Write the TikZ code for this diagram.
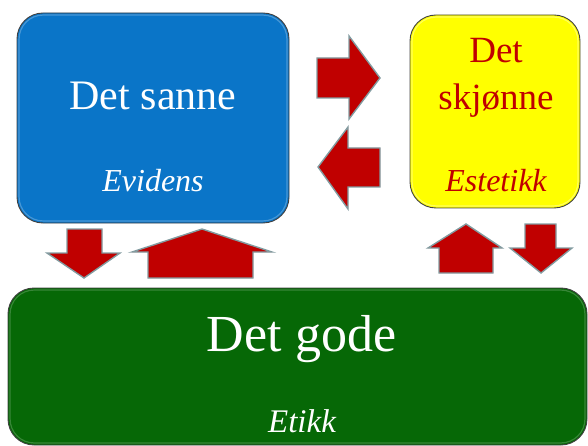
\documentclass[tikz,border=0pt]{standalone}
\usepackage{fontspec}
\setmainfont{Liberation Serif}
\definecolor{boxblue}{RGB}{10,117,200}
\definecolor{boxyellow}{RGB}{255,255,0}
\definecolor{boxgreen}{RGB}{6,104,6}
\definecolor{arrred}{RGB}{192,0,0}
\definecolor{arredge}{RGB}{130,155,160}
\definecolor{txtred}{RGB}{192,0,0}
\tikzset{
  panel/.style={rectangle, rounded corners=26pt, draw=black!75, line width=0.9pt, inner sep=0pt},
  blockarrow/.style={fill=arrred, draw=arredge, line width=1.4pt, line join=miter},
  bigtext/.style={anchor=base, inner sep=0pt},
}
\begin{document}
\begin{tikzpicture}[x=1pt,y=-1pt]
\useasboundingbox (0,0) rectangle (588,446);
% panels
\node[panel, fill=boxblue, minimum width=272pt, minimum height=210pt] (sanne) at (153,118) {};
\node[panel, fill=boxyellow, minimum width=170pt, minimum height=193pt] (skjonne) at (495,111.5) {};
\node[panel, fill=boxgreen, minimum width=579pt, minimum height=157pt] (gode) at (297.5,366.5) {};
% highlights
\draw[white, opacity=0.25, line width=1.2pt, rounded corners=24pt] ([shift={(2.5pt,-2.5pt)}]sanne.north west) rectangle ([shift={(-2.5pt,2.5pt)}]sanne.south east);
\draw[white, opacity=0.35, line width=1.2pt, rounded corners=24pt] ([shift={(2.5pt,-2.5pt)}]skjonne.north west) rectangle ([shift={(-2.5pt,2.5pt)}]skjonne.south east);
\draw[white, opacity=0.2, line width=1.2pt, rounded corners=24pt] ([shift={(2.5pt,-2.5pt)}]gode.north west) rectangle ([shift={(-2.5pt,2.5pt)}]gode.south east);
% texts
\node[bigtext, text=white, font=\fontsize{42}{50}\selectfont] (t1) at (153,110) {Det sanne};
\node[bigtext, text=white, font=\fontsize{32}{38}\selectfont\itshape] (t1b) at (153,192) {Evidens};
\node[bigtext, text=txtred, font=\fontsize{37}{45}\selectfont] (t2a) at (496,63) {Det};
\node[bigtext, text=txtred, font=\fontsize{37}{45}\selectfont] (t2b) at (496,110) {skjønne};
\node[bigtext, text=txtred, font=\fontsize{32}{38}\selectfont\itshape] (t2c) at (496,192) {Estetikk};
\node[bigtext, text=white, font=\fontsize{52}{62}\selectfont] (t3) at (301.5,351) {Det gode};
\node[bigtext, text=white, font=\fontsize{33}{40}\selectfont\itshape] (t3b) at (302,432) {Etikk};
% block arrows
\draw[blockarrow] (317,58) -- (349,58) -- (349,36) -- (380,78) -- (349,119) -- (349,98) -- (317,98) -- cycle;
\draw[blockarrow] (380,148) -- (348,148) -- (348,127) -- (318,167) -- (348,209) -- (348,187) -- (380,187) -- cycle;
\draw[blockarrow] (67,229) -- (102,229) -- (102,253) -- (120,253) -- (84,278) -- (47,253) -- (67,253) -- cycle;
\draw[blockarrow] (148,278) -- (148,252) -- (132,252) -- (202,229) -- (272,252) -- (253,252) -- (253,278) -- cycle;
\draw[blockarrow] (439,273) -- (439,248) -- (428,248) -- (466,224) -- (502,248) -- (493,248) -- (493,273) -- cycle;
\draw[blockarrow] (525,224) -- (556,224) -- (556,248) -- (572,248) -- (541,273) -- (510,248) -- (525,248) -- cycle;
\end{tikzpicture}
\end{document}
